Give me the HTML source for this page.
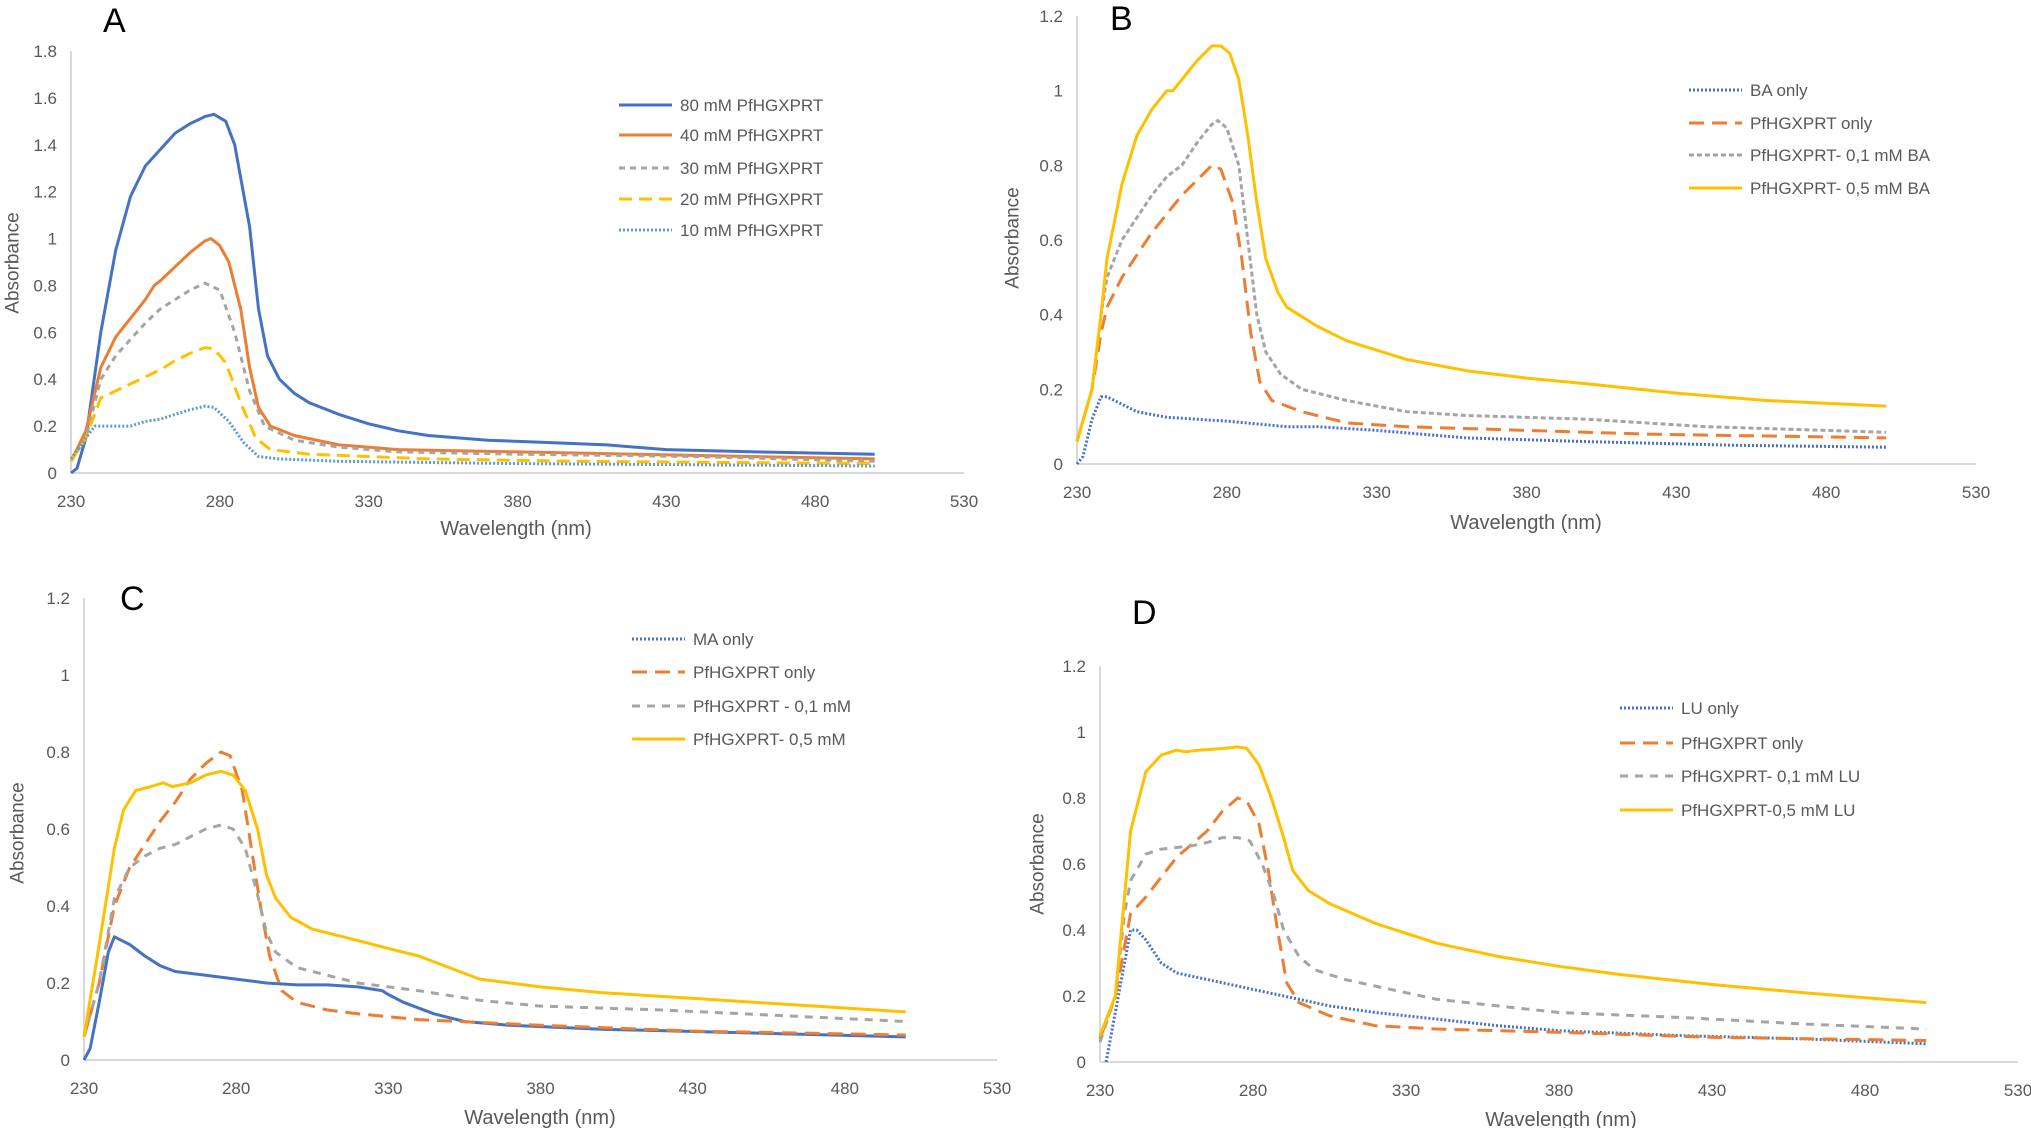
<!DOCTYPE html>
<html><head><meta charset="utf-8"><style>
html,body{margin:0;padding:0;background:#fff;}
svg{display:block;}
text{font-family:"Liberation Sans Narrow","Liberation Sans",sans-serif;}
</style></head><body>
<svg id="fig" width="2031" height="1128" viewBox="0 0 2031 1128" xmlns="http://www.w3.org/2000/svg"></svg>
<script>
// ---- Panel A data ----
const A_80_wl=[230,232,235,240,245,250,255,260,265,270,275,278,282,285,290,293,296,300,305,310,320,330,340,350,370,390,410,430,460,500];
const A_80_ab=[0,0.02,0.15,0.6,0.95,1.18,1.31,1.38,1.45,1.49,1.52,1.53,1.5,1.4,1.05,0.7,0.5,0.4,0.34,0.3,0.25,0.21,0.18,0.16,0.14,0.13,0.12,0.1,0.09,0.08];
const A_40_wl=[230,235,240,245,250,255,258,260,265,270,275,277,280,283,287,290,293,297,305,320,340,380,420,460,500];
const A_40_ab=[0.05,0.18,0.45,0.58,0.66,0.74,0.8,0.82,0.88,0.94,0.99,1.0,0.97,0.9,0.7,0.45,0.28,0.2,0.16,0.12,0.1,0.09,0.08,0.07,0.06];
const A_30_wl=[230,235,240,245,250,255,260,265,270,275,280,285,290,295,305,320,340,380,440,500];
const A_30_ab=[0.05,0.15,0.4,0.5,0.57,0.64,0.7,0.74,0.78,0.81,0.78,0.6,0.35,0.2,0.14,0.11,0.09,0.08,0.07,0.05];
const A_20_wl=[230,235,240,245,250,255,260,265,270,275,278,282,287,292,297,310,350,400,500];
const A_20_ab=[0.05,0.15,0.32,0.35,0.38,0.41,0.44,0.48,0.51,0.535,0.53,0.47,0.3,0.15,0.1,0.08,0.06,0.05,0.04];
const A_10_wl=[230,235,238,245,250,255,260,265,270,275,278,283,288,293,300,320,380,500];
const A_10_ab=[0.06,0.15,0.2,0.2,0.2,0.22,0.23,0.25,0.27,0.285,0.28,0.22,0.13,0.07,0.06,0.05,0.04,0.03];
// ---- Panel B data ----
const B_ba_wl=[230,232,235,238,240,245,250,260,280,300,310,330,360,400,450,500];
const B_ba_ab=[0,0.02,0.12,0.18,0.18,0.16,0.14,0.125,0.115,0.1,0.1,0.09,0.07,0.06,0.05,0.045];
const B_pf_wl=[230,235,238,240,245,250,255,260,265,270,275,278,282,285,288,291,295,305,320,340,380,420,460,500];
const B_pf_ab=[0.06,0.2,0.35,0.42,0.5,0.56,0.62,0.67,0.72,0.76,0.8,0.79,0.7,0.55,0.35,0.22,0.17,0.14,0.11,0.1,0.09,0.08,0.075,0.07];
const B_01_wl=[230,235,238,240,245,250,255,260,265,270,275,277,280,284,287,290,293,298,305,320,340,360,400,440,500];
const B_01_ab=[0.06,0.2,0.4,0.5,0.6,0.66,0.72,0.77,0.8,0.86,0.91,0.92,0.9,0.8,0.6,0.4,0.3,0.24,0.2,0.17,0.14,0.13,0.12,0.1,0.085];
const B_05_wl=[230,235,238,240,245,250,255,260,262,265,270,275,278,281,284,287,290,293,297,300,310,320,340,360,380,400,430,460,500];
const B_05_ab=[0.06,0.2,0.4,0.55,0.75,0.88,0.95,1.0,1.0,1.03,1.08,1.12,1.12,1.1,1.03,0.88,0.7,0.55,0.46,0.42,0.37,0.33,0.28,0.25,0.23,0.215,0.19,0.17,0.155];
// ---- Panel C data ----
const C_ma_wl=[230,232,235,238,240,245,250,255,260,270,280,290,300,310,320,328,330,335,345,355,370,400,450,500];
const C_ma_ab=[0,0.03,0.15,0.28,0.32,0.3,0.27,0.245,0.23,0.22,0.21,0.2,0.195,0.195,0.19,0.18,0.17,0.15,0.12,0.1,0.09,0.08,0.07,0.06];
const C_pf_wl=[230,235,240,245,250,255,260,265,270,275,278,282,285,288,291,295,300,310,320,340,380,430,500];
const C_pf_ab=[0.06,0.2,0.4,0.5,0.56,0.62,0.67,0.73,0.77,0.8,0.79,0.7,0.55,0.4,0.27,0.18,0.15,0.13,0.12,0.105,0.09,0.075,0.065];
const C_01_wl=[230,235,240,245,250,255,260,265,270,275,279,283,287,290,293,300,310,320,340,360,380,420,460,500];
const C_01_ab=[0.06,0.2,0.42,0.5,0.53,0.55,0.56,0.58,0.6,0.61,0.6,0.55,0.43,0.33,0.28,0.24,0.22,0.2,0.18,0.155,0.14,0.13,0.115,0.1];
const C_05_wl=[230,235,240,243,247,252,256,259,265,270,275,279,283,287,290,293,298,305,320,330,340,350,360,380,400,440,500];
const C_05_ab=[0.06,0.3,0.55,0.65,0.7,0.71,0.72,0.71,0.72,0.74,0.75,0.74,0.7,0.6,0.48,0.42,0.37,0.34,0.31,0.29,0.27,0.24,0.21,0.19,0.175,0.155,0.125];
// ---- Panel D data ----
const D_lu_wl=[232,235,238,240,242,245,250,255,265,275,285,295,305,320,340,360,380,420,460,500];
const D_lu_ab=[0,0.15,0.3,0.4,0.4,0.37,0.3,0.27,0.25,0.23,0.21,0.19,0.17,0.15,0.13,0.11,0.095,0.08,0.07,0.055];
const D_pf_wl=[230,235,238,240,245,250,255,260,265,270,275,278,282,285,288,291,295,305,320,340,380,430,500];
const D_pf_ab=[0.07,0.2,0.35,0.45,0.5,0.56,0.62,0.66,0.7,0.76,0.8,0.79,0.72,0.58,0.4,0.24,0.18,0.14,0.11,0.1,0.09,0.075,0.065];
const D_01_wl=[230,235,238,240,245,250,255,260,265,270,275,279,283,287,290,295,300,310,320,340,360,380,420,460,500];
const D_01_ab=[0.06,0.2,0.45,0.55,0.63,0.645,0.65,0.655,0.665,0.68,0.68,0.67,0.6,0.5,0.4,0.32,0.28,0.25,0.23,0.19,0.17,0.15,0.135,0.115,0.1];
const D_05_wl=[230,235,238,240,245,250,255,258,262,270,275,278,282,286,290,293,298,305,320,340,360,380,400,430,460,500];
const D_05_ab=[0.08,0.2,0.5,0.7,0.88,0.93,0.945,0.94,0.945,0.95,0.955,0.95,0.9,0.8,0.68,0.58,0.52,0.48,0.42,0.36,0.32,0.29,0.265,0.235,0.21,0.18];
// ---- ticks ----
const xTicks=[230,280,330,380,430,480,530];
const A_yTicks=[0,0.2,0.4,0.6,0.8,1,1.2,1.4,1.6,1.8];
const B_yTicks=[0,0.2,0.4,0.6,0.8,1,1.2];
const A_legend=["80 mM PfHGXPRT","40 mM PfHGXPRT","30 mM PfHGXPRT","20 mM PfHGXPRT","10 mM PfHGXPRT"];
const B_legend=["BA only","PfHGXPRT only","PfHGXPRT- 0,1 mM BA","PfHGXPRT- 0,5 mM BA"];
const C_legend=["MA only","PfHGXPRT only","PfHGXPRT - 0,1 mM","PfHGXPRT- 0,5 mM"];
const D_legend=["LU only","PfHGXPRT only","PfHGXPRT- 0,1 mM LU","PfHGXPRT-0,5 mM LU"];

const NS="http://www.w3.org/2000/svg";
const svg=document.getElementById('fig');
function mk(tag,attrs,parent){const e=document.createElementNS(NS,tag);for(const k in attrs)e.setAttribute(k,attrs[k]);(parent||svg).appendChild(e);return e;}

const BLUE="#4472C4",ORANGE="#ED7D31",GREY="#A5A5A5",YEL="#FFC000",LB="#5B9BD5";
const panels=[
 {id:'a',letter:'A',lx:103,ly:32,x0:71,x1:964,yb:473,yt:51,ymax:1.8,yt_:A_yTicks,yfmt:v=>String(v),ytx:[13,263],xtx:[516,535],
  leg:{x:619,ys:[105,135,168,199,230],names:A_legend},
  series:[[A_80_wl,A_80_ab,BLUE,null,'a-80mm'],[A_40_wl,A_40_ab,ORANGE,null,'a-40mm'],[A_30_wl,A_30_ab,GREY,'6,5','a-30mm'],[A_20_wl,A_20_ab,YEL,'13,7','a-20mm'],[A_10_wl,A_10_ab,LB,'2,2','a-10mm']]},
 {id:'b',letter:'B',lx:1110,ly:30,x0:1077,x1:1976,yb:464,yt:16,ymax:1.2,yt_:B_yTicks,ytx:[1013,238],xtx:[1526,529],
  leg:{x:1689,ys:[90,123,155,188],names:B_legend},
  series:[[B_ba_wl,B_ba_ab,BLUE,'2,2','b-ba-only'],[B_pf_wl,B_pf_ab,ORANGE,'15,8','b-pfhgxprt-only'],[B_01_wl,B_01_ab,GREY,'5,3','b-0-1mm-ba'],[B_05_wl,B_05_ab,YEL,null,'b-0-5mm-ba']]},
 {id:'c',letter:'C',lx:120,ly:610,x0:84,x1:997,yb:1060,yt:598,ymax:1.2,yt_:B_yTicks,ytx:[18,833],xtx:[540,1124],
  leg:{x:632,ys:[639,672,706,739],names:C_legend,firstDash:'2,2'},
  series:[[C_ma_wl,C_ma_ab,BLUE,null,'c-ma-only'],[C_pf_wl,C_pf_ab,ORANGE,'15,8','c-pfhgxprt-only'],[C_01_wl,C_01_ab,GREY,'8,7','c-0-1mm'],[C_05_wl,C_05_ab,YEL,null,'c-0-5mm']]},
 {id:'d',letter:'D',lx:1132,ly:624,x0:1100,x1:2018,yb:1062,yt:666,ymax:1.2,yt_:B_yTicks,ytx:[1038,864],xtx:[1561,1126],
  leg:{x:1620,ys:[708,743,776,810],names:D_legend},
  series:[[D_lu_wl,D_lu_ab,BLUE,'2,2','d-lu-only'],[D_pf_wl,D_pf_ab,ORANGE,'15,8','d-pfhgxprt-only'],[D_01_wl,D_01_ab,GREY,'8,7','d-0-1mm-lu'],[D_05_wl,D_05_ab,YEL,null,'d-0-5mm-lu']]}
];

panels.forEach(p=>{
 const g=mk('g',{});
 
 
 const xs=v=>p.x0+(v-230)/(530-230)*(p.x1-p.x0);
 const ys=v=>p.yb-(v/p.ymax)*(p.yb-p.yt);
 const yAx=mk('line',{x1:p.x0,y1:p.yt,x2:p.x0,y2:p.yb,stroke:'#d9d9d9','stroke-width':2},g);
 
 
 const xAx=mk('line',{x1:p.x0,y1:p.yb,x2:p.x1,y2:p.yb,stroke:'#d9d9d9','stroke-width':2},g);
 
 
 p.yt_.forEach(v=>{
  const t=mk('text',{x:p.x0-14,y:ys(v)+6,'text-anchor':'end','font-size':17,fill:'#595959'},g);
  t.textContent=String(v);
  
  
 });
 xTicks.forEach(v=>{
  const t=mk('text',{x:xs(v),y:p.yb+34,'text-anchor':'middle','font-size':17,fill:'#595959'},g);
  t.textContent=String(v);
  
  
 });
 const yt=mk('text',{x:p.ytx[0],y:p.ytx[1],'text-anchor':'middle','font-size':19,fill:'#595959','font-family':'"Liberation Sans",sans-serif',transform:`rotate(-90 ${p.ytx[0]} ${p.ytx[1]})`,'dominant-baseline':'central'},g);
 yt.textContent='Absorbance';
 
 
 const xt=mk('text',{x:p.xtx[0],y:p.xtx[1],'text-anchor':'middle','font-size':20,fill:'#595959'},g);
 xt.textContent='Wavelength (nm)';
 
 
 const L=mk('text',{x:p.lx,y:p.ly,'font-size':34,fill:'#000'},g);
 L.textContent=p.letter;
 
 
 p.series.forEach(s=>{
  const [wl,ab,col,dash,name]=s;
  let d='';
  for(let i=0;i<wl.length;i++)d+=(i?'L':'M')+xs(wl[i]).toFixed(1)+','+ys(ab[i]).toFixed(1);
  const a={d:d,fill:'none',stroke:col,'stroke-width':3,'stroke-linejoin':'round'};
  if(dash)a['stroke-dasharray']=dash;
  const path=mk('path',a,g);
  
  
 });
 p.leg.names.forEach((nm,i)=>{
  const s=p.series[i];
  const y=p.leg.ys[i];
  const la={x1:p.leg.x,y1:y,x2:p.leg.x+53,y2:y,stroke:s[2],'stroke-width':3};
  const dash=(i===0&&p.leg.firstDash)?p.leg.firstDash:s[3];
  if(dash)la['stroke-dasharray']=dash;
  const ln=mk('line',la,g);
  
  
  const t=mk('text',{x:p.leg.x+61,y:y+6,'font-size':17,fill:'#595959'},g);
  t.textContent=nm;
  
  
 });
});
</script>
</body></html>
